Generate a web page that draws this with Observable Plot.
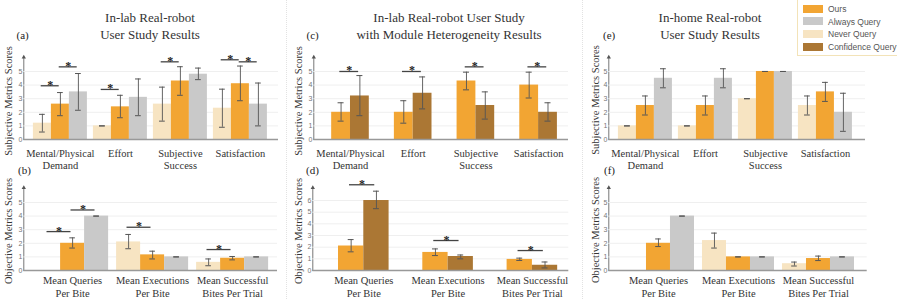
<!DOCTYPE html>
<html>
<head>
<meta charset="utf-8">
<script src="https://cdn.jsdelivr.net/npm/d3@7"></script>
<script src="https://cdn.jsdelivr.net/npm/@observablehq/plot@0.6"></script>
<style>
  html, body { margin: 0; padding: 0; background: #fff; }
  #root { position: relative; width: 897px; height: 299px; overflow: hidden; background: #fff; font-family: "Liberation Serif", "Times New Roman", Times, "DejaVu Serif", serif; color: #333; }
  .title { position: absolute; width: 300px; text-align: center; font-size: 13px; line-height: 17px; color: #333; white-space: nowrap; }
  .tag { position: absolute; font-size: 11px; line-height: 13px; color: #222; }
  .ylab { position: absolute; font-size: 10.5px; white-space: nowrap; transform: translate(-50%, -50%) rotate(-90deg); color: #333; }
  .panel { position: absolute; }
  .panel svg { overflow: visible; }
  .divider { position: absolute; top: 0; height: 299px; width: 0; border-left: 1px dotted #e2e2e2; }
  #legend { position: absolute; left: 797px; top: -1px; width: 110px; height: 55px; border: 1px solid #f3e3b8; background: #fff; font-family: "Liberation Sans", Arial, sans-serif; font-size: 8.5px; color: #555; }
  .lg { position: absolute; left: 5px; height: 12px; line-height: 12px; white-space: nowrap; }
  .sw { display: inline-block; width: 20px; height: 8px; vertical-align: middle; margin-right: 5px; margin-top: -2px; }
</style>
</head>
<body>
<div id="root"></div>
<script>
// ---------- data ----------
const seriesKeys = ["ours", "always", "never", "conf"];
const seriesNames = ["Ours", "Always Query", "Never Query", "Confidence Query"];
const seriesColors = ["#F2A533", "#C9C9C9", "#F7E4C2", "#AB7734"];

const topGroups = ["Mental/Physical\nDemand", "Effort", "Subjective\nSuccess", "Satisfaction"];
const botGroups = ["Mean Queries\nPer Bite", "Mean Executions\nPer Bite", "Mean Successful\nBites Per Trial"];
const topTicks = [0, 1, 2, 3, 4, 5];
const botTicks = [0, 1, 2, 3, 4, 5];
const dTicks = [0, 1, 2, 3, 4, 5, 6];

// (a) In-lab
const aNever = [1.2, 1.0, 2.6, 2.3];
const aNeverErr = [[0.55, 1.85], [1, 1], [1.35, 3.85], [0.9, 3.7]];
const aOurs = [2.6, 2.4, 4.3, 4.1];
const aOursErr = [[1.75, 3.45], [1.6, 3.25], [3.25, 5.35], [2.85, 5.4]];
const aAlways = [3.5, 3.1, 4.8, 2.6];
const aAlwaysErr = [[2.15, 4.85], [1.75, 4.45], [4.4, 5.25], [1.0, 4.15]];
const aSig = [[0, "never", "ours", 3.95], [0, "ours", "always", 5.34], [1, "never", "ours", 3.68], [2, "never", "ours", 5.71], [3, "never", "ours", 5.86], [3, "ours", "always", 5.71]];

// (c) Module heterogeneity
const cOurs = [2.0, 2.0, 4.3, 4.0];
const cOursErr = [[1.35, 2.7], [1.2, 2.85], [3.65, 4.95], [3.05, 4.95]];
const cConf = [3.2, 3.4, 2.5, 2.0];
const cConfErr = [[1.75, 4.7], [2.25, 4.6], [1.5, 3.5], [1.35, 2.7]];
const cSig = [[0, "ours", "conf", 5.0], [1, "ours", "conf", 5.0], [2, "ours", "conf", 5.34], [3, "ours", "conf", 5.34]];

// (e) In-home
const eNever = [1, 1, 3, 2.5];
const eNeverErr = [[1, 1], [1, 1], [3, 3], [1.8, 3.2]];
const eOurs = [2.5, 2.5, 5, 3.5];
const eOursErr = [[1.8, 3.2], [1.8, 3.2], [5, 5], [2.8, 4.2]];
const eAlways = [4.5, 4.5, 5, 2.0];
const eAlwaysErr = [[3.8, 5.2], [3.8, 5.2], [5, 5], [0.6, 3.4]];

// (b) In-lab objective
const bNever = [null, 2.1, 0.6];
const bNeverErr = [null, [1.6, 2.65], [0.35, 0.85]];
const bOurs = [2.0, 1.15, 0.9];
const bOursErr = [[1.65, 2.4], [0.85, 1.42], [0.78, 1.03]];
const bAlways = [4.0, 1.0, 1.0];
const bAlwaysErr = [[4, 4], [1, 1], [1, 1]];
const bSig = [[0, "never", "ours", 2.86], [0, "ours", "always", 4.45], [1, "never", "ours", 3.18], [2, "never", "ours", 1.54]];

// (d) Module heterogeneity objective
const dOurs = [2.1, 1.55, 0.95];
const dOursErr = [[1.6, 2.65], [1.28, 1.85], [0.86, 1.06]];
const dConf = [6.0, 1.2, 0.45];
const dConfErr = [[5.3, 6.8], [1.0, 1.33], [0.22, 0.73]];
const dSig = [[0, "ours", "conf", 7.35], [1, "ours", "conf", 2.57], [2, "ours", "conf", 1.71]];

// (f) In-home objective
const fNever = [null, 2.2, 0.5];
const fNeverErr = [null, [1.65, 2.75], [0.33, 0.62]];
const fOurs = [2.0, 1.0, 0.88];
const fOursErr = [[1.76, 2.32], [1, 1], [0.73, 1.06]];
const fAlways = [4.0, 1.0, 1.0];
const fAlwaysErr = [[4, 4], [1, 1], [1, 1]];

// ---------- drawing ----------
const SERIF = '"Liberation Serif", "Times New Roman", Times, "DejaVu Serif", serif';
const root = document.getElementById("root");
const BW = 0.3;

function makePanel(cfg) {
  const n = cfg.bars.length;
  const rows = [];
  const centers = {};
  cfg.bars.forEach((b, si) => {
    centers[b.key] = [];
    b.values.forEach((v, gi) => {
      const c = gi + (si - (n - 1) / 2) * BW;
      centers[b.key][gi] = c;
      if (v == null) return;
      rows.push({key: b.key, c, x1: c - BW / 2, x2: c + BW / 2, v, lo: b.err[gi][0], hi: b.err[gi][1]});
    });
  });
  const sigRows = (cfg.sig || []).map(([g, a, b, y]) => ({x1: centers[a][g] - 0.02, x2: centers[b][g] - 0.02, y}));
  const caps = rows.flatMap(r => [{c: r.c, y: r.lo}, {c: r.c, y: r.hi}]);
  const cap = cfg.cap;
  const plot = Plot.plot({
    width: cfg.width, height: cfg.height,
    marginLeft: cfg.ml, marginRight: cfg.mr, marginTop: cfg.mt, marginBottom: cfg.mb,
    x: {domain: cfg.xDomain, axis: null},
    y: {domain: cfg.yDomain, ticks: cfg.yTicks, tickFormat: d => String(d), tickSize: 0, tickPadding: 1.5, label: null, line: true},
    color: {domain: seriesKeys, range: seriesColors},
    style: {fontFamily: '"Liberation Sans", Arial, sans-serif', fontSize: "7px", color: "#777", background: "transparent", overflow: "visible"},
    marks: [
      Plot.ruleY(cfg.yTicks.filter(t => t > 0), {stroke: "#efefef", strokeWidth: 1}),
      Plot.rect(rows, {x1: "x1", x2: "x2", y1: 0, y2: "v", fill: "key"}),
      Plot.ruleY([0], {stroke: "#999", strokeWidth: 1.7}),
      Plot.ruleX(rows, {x: "c", y1: "lo", y2: "hi", stroke: "#555", strokeWidth: 1, strokeOpacity: 0.9}),
      Plot.ruleY(caps, {x1: d => d.c - cap, x2: d => d.c + cap, y: "y", stroke: "#555", strokeWidth: 1}),
      Plot.ruleY(sigRows, {x1: "x1", x2: "x2", y: "y", stroke: "#444", strokeWidth: 1.3}),
      Plot.text(sigRows, {x: d => (d.x1 + d.x2) / 2, y: "y", text: () => "*", lineAnchor: "bottom", dy: 3, fontSize: 12, fontFamily: SERIF, fill: "#222", fontWeight: "bold"}),
      Plot.text(cfg.groups, {x: (d, i) => i, y: 0, text: d => d, lineAnchor: "top", dy: cfg.labelDy, fontSize: cfg.labelFont, lineHeight: cfg.lineHeight, fontFamily: SERIF, fill: "#333"}),
      Plot.dot([{x: cfg.xDomain[0], y: cfg.yDomain[1]}], {x: "x", y: "y", symbol: "triangle", r: 1.6, fill: "#555", stroke: null})
    ]
  });
  const holder = document.createElement("div");
  holder.className = "panel";
  holder.style.left = cfg.left + "px";
  holder.style.top = cfg.top + "px";
  holder.appendChild(plot);
  root.appendChild(holder);
}

const topCommon = {top: 45, height: 125, mt: 11.7, mb: 31, yDomain: [0, 6.05], yTicks: topTicks, groups: topGroups, cap: 0.048, labelDy: 9.2, labelFont: 10.5, lineHeight: 1.15};
const botCommon = {top: 175, height: 124, mt: 12.3, mb: 29, groups: botGroups, cap: 0.035, labelDy: 4.5, labelFont: 10.5, lineHeight: 1.2};

makePanel({...topCommon, left: 0, width: 290, ml: 23.3, mr: 12, xDomain: [-0.61, 3.635],
  bars: [{key: "never", values: aNever, err: aNeverErr}, {key: "ours", values: aOurs, err: aOursErr}, {key: "always", values: aAlways, err: aAlwaysErr}], sig: aSig});
makePanel({...topCommon, left: 290, width: 290, ml: 23.3, mr: 12, xDomain: [-0.585, 3.477],
  bars: [{key: "ours", values: cOurs, err: cOursErr}, {key: "conf", values: cConf, err: cConfErr}], sig: cSig});
makePanel({...topCommon, left: 585, width: 312, ml: 23.3, mr: 32, xDomain: [-0.61, 3.668],
  bars: [{key: "never", values: eNever, err: eNeverErr}, {key: "ours", values: eOurs, err: eOursErr}, {key: "always", values: eAlways, err: eAlwaysErr}], sig: []});

makePanel({...botCommon, left: 0, width: 290, ml: 23.3, mr: 13, xDomain: [-0.61, 2.561], yDomain: [0, 6.08], yTicks: botTicks,
  bars: [{key: "never", values: bNever, err: bNeverErr}, {key: "ours", values: bOurs, err: bOursErr}, {key: "always", values: bAlways, err: bAlwaysErr}], sig: bSig});
makePanel({...botCommon, left: 290, width: 290, ml: 22.3, mr: 11.7, xDomain: [-0.605, 2.432], yDomain: [0, 7.09], yTicks: dTicks,
  bars: [{key: "ours", values: dOurs, err: dOursErr}, {key: "conf", values: dConf, err: dConfErr}], sig: dSig});
makePanel({...botCommon, left: 585, width: 312, ml: 23.3, mr: 30.3, xDomain: [-0.621, 2.609], yDomain: [0, 6.08], yTicks: botTicks,
  bars: [{key: "never", values: fNever, err: fNeverErr}, {key: "ours", values: fOurs, err: fOursErr}, {key: "always", values: fAlways, err: fAlwaysErr}], sig: []});

// ---------- text, dividers, legend ----------
function addDiv(cls, html, styles) {
  const d = document.createElement("div");
  d.className = cls;
  d.innerHTML = html;
  Object.assign(d.style, styles);
  root.appendChild(d);
  return d;
}
addDiv("divider", "", {left: "286px"});
addDiv("divider", "", {left: "582px"});

addDiv("title", "In-lab Real-robot<br>User Study Results", {left: "0px", top: "8.5px"});
addDiv("title", "In-lab Real-robot User Study<br>with Module Heterogeneity Results", {left: "299px", top: "8.5px"});
addDiv("title", "In-home Real-robot<br>User Study Results", {left: "560px", top: "8.5px"});

addDiv("tag", "(a)", {left: "16.5px", top: "28.5px"});
addDiv("tag", "(c)", {left: "306.5px", top: "28.5px"});
addDiv("tag", "(e)", {left: "603px", top: "28.5px"});
addDiv("tag", "(b)", {left: "18px", top: "164px"});
addDiv("tag", "(d)", {left: "306px", top: "163.5px"});
addDiv("tag", "(f)", {left: "604px", top: "163.5px"});

addDiv("ylab", "Subjective Metrics Scores", {left: "8px", top: "101px"});
addDiv("ylab", "Subjective Metrics Scores", {left: "297.5px", top: "101px"});
addDiv("ylab", "Subjective Metrics Scores", {left: "595px", top: "100px"});
addDiv("ylab", "Objective Metrics Scores", {left: "8px", top: "231px"});
addDiv("ylab", "Objective Metrics Scores", {left: "297.5px", top: "231px"});
addDiv("ylab", "Objective Metrics Scores", {left: "594.5px", top: "230px"});

const legend = addDiv("", "", {});
legend.id = "legend";
seriesNames.forEach((name, i) => {
  const e = document.createElement("div");
  e.className = "lg";
  e.style.top = (3 + i * 12.6) + "px";
  e.innerHTML = `<span class="sw" style="background:${seriesColors[i]}"></span>${name}`;
  legend.appendChild(e);
});
</script>
</body>
</html>
